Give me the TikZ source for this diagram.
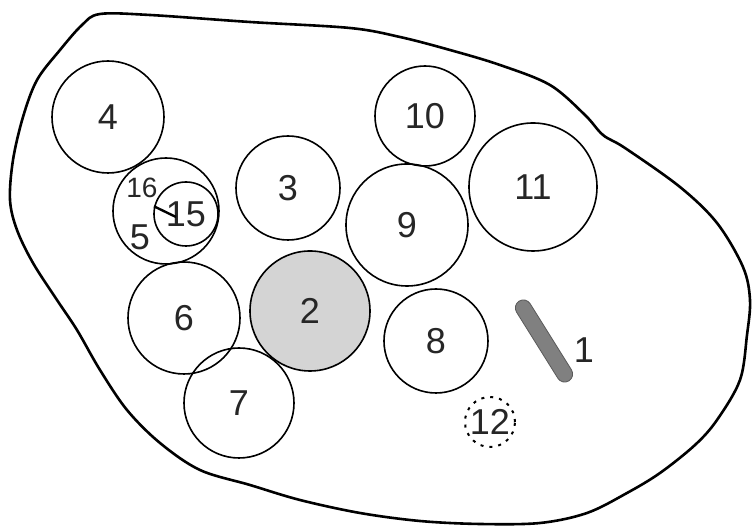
\documentclass[tikz,border=0pt]{standalone}
\usepackage{fontspec}
\setmainfont{Liberation Sans}

\begin{document}
\begin{tikzpicture}[x=0.5pt, y=-0.5pt,
    cell/.style={circle, draw, line width=0.8pt, inner sep=0pt, font=\fontsize{18}{18}\selectfont, text=black!85},
    num/.style={inner sep=1pt, font=\fontsize{18}{18}\selectfont, text=black!85}]
        \useasboundingbox (0,0) rectangle (752,528);
        % outline of the section
        \draw[line width=1.3pt] plot[smooth cycle, tension=0.55] coordinates {
            (100,14) (150,15) (250,22) (350,28) (400,37) (450,50) (500,65)
            (550,85) (585,115) (603,135) (625,148) (680,187) (717,223)
            (743,267) (750,300) (747,335) (740,380) (717,420) (695,445) (660,473)
            (627,493) (587,513) (540,523) (480,524) (420,521) (360,513) (300,500)
            (250,485) (200,470) (160,443) (127,410) (100,370) (77,330) (57,300)
            (33,263) (17,230) (10,200) (13,160) (23,117) (37,80) (60,50) (82,25)};

        % circles
        \node[cell, minimum size=56pt] (c4) at (108,117) {4};
        \node[cell, minimum size=53pt] (c5) at (166,211) {};
        \node[cell, minimum size=32pt] (c15) at (186,214) {15};
        \node[cell, minimum size=52pt] (c3) at (288,188) {3};
        \node[cell, minimum size=50pt] (c10) at (425,116) {10};
        \node[cell, minimum size=61pt] (c9) at (407,225) {9};
        \node[cell, minimum size=64pt] (c11) at (533,187) {11};
        \node[cell, minimum size=56pt] (c6) at (184,318) {6};
        \node[cell, minimum size=60pt, fill=black!17] (c2) at (310,311) {2};
        \node[cell, minimum size=55pt] (c7) at (239,403) {7};
        \node[cell, minimum size=52pt] (c8) at (436,341) {8};
        \node[cell, minimum size=25pt, line width=1pt, dash pattern=on 1.5pt off 3pt] (c12) at (490,422) {12};

        % labels in circle 5
        \node[num, font=\fontsize{14}{14}\selectfont] (l16) at (142,188) {16};
        \node[num] (l5) at (140,237) {5};
        \coordinate (k15) at (176,217);
        \draw[line width=1.2pt] ([shift={(-6,6)}]l16.south east) -- (k15);

        % body 1
        \node[rectangle, rounded corners=4pt, minimum width=47pt, minimum height=8pt, inner sep=0pt,
              rotate=-58, fill=black!50, draw=black!65] (s1) at (544,341) {};
        \node[num] (l1) at (584,350) {1};
    \end{tikzpicture}
\end{document}
